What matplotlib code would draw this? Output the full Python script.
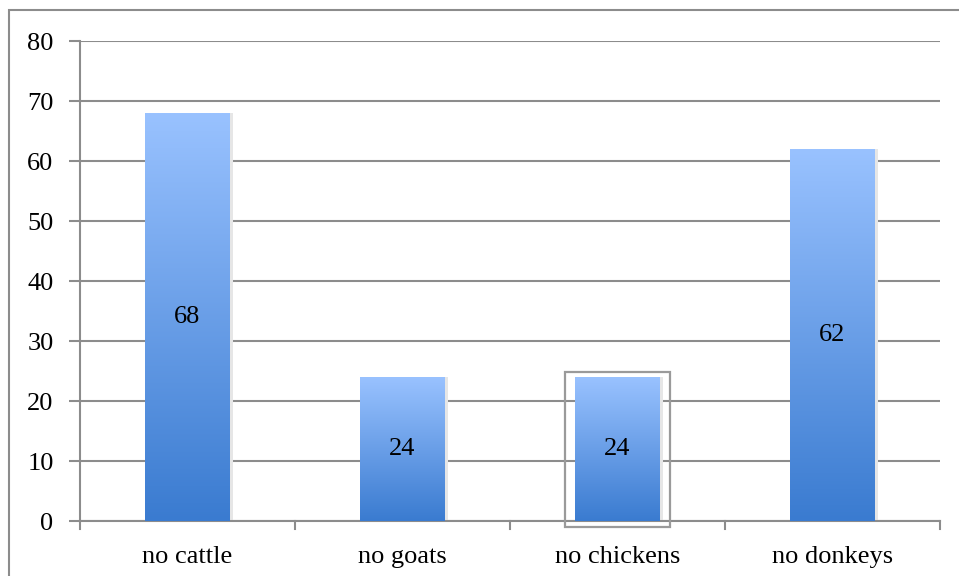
import matplotlib

matplotlib.use("Agg")
import matplotlib.pyplot as plt
import numpy as np
from matplotlib.colors import LinearSegmentedColormap
from matplotlib.patches import Rectangle

categories = ["no cattle", "no goats", "no chickens", "no donkeys"]
values = [68, 24, 24, 62]
y_ticks = [0, 10, 20, 30, 40, 50, 60, 70, 80]

plt.rcParams["font.family"] = ["Liberation Serif", "DejaVu Serif"]

W, H = 959, 576
fig = plt.figure(figsize=(W / 100, H / 100), dpi=100)

# outer frame (only top/left visible in the reference)
fig.patches.append(
    Rectangle((9 / W, -0.1), 1.1, 1 - 10 / H + 0.1, transform=fig.transFigure,
              fill=False, edgecolor="#8c8c8c", linewidth=1.5)
)

ax = fig.add_axes([80 / W, 1 - 521 / H, (940 - 80) / W, (521 - 41) / H])
ax.set_xlim(-0.5, len(categories) - 0.5)
ax.set_ylim(0, 80)

grad_cmap = LinearSegmentedColormap.from_list("bar", ["#3a7bd0", "#99c2ff"])
grad = np.linspace(0, 1, 256).reshape(-1, 1)
bar_w = 0.395

for i, v in enumerate(values):
    x0, x1 = i - bar_w / 2, i + bar_w / 2
    # soft shadow
    ax.add_patch(Rectangle((x1, 0), 0.012, v, facecolor="#e6e6e6",
                           edgecolor="none", zorder=2))
    ax.imshow(grad, cmap=grad_cmap, origin="lower", aspect="auto",
              extent=(x0, x1, 0, v), zorder=3, interpolation="bilinear")
    ax.text(i, v / 2, str(v), ha="center", va="center", fontsize=19,
            color="black", zorder=4)

# selection frame around the third bar
sel = 2
ax.add_patch(Rectangle((sel - bar_w / 2 - 0.045, -1.0), bar_w + 0.09,
                       values[sel] + 1.85, fill=False, edgecolor="#9a9a9a",
                       linewidth=1.6, zorder=5, clip_on=False))

ax.set_yticks(y_ticks)
ax.set_yticklabels([str(t) for t in y_ticks], fontsize=19)
ax.set_xticks(range(len(categories)))
ax.set_xticklabels(categories, fontsize=19)
ax.tick_params(axis="x", length=0, pad=18)
ax.tick_params(axis="y", length=8, width=1.5, color="#8c8c8c", pad=11)

# category separators on the x axis
for b in np.arange(-0.5, len(categories), 1.0):
    ax.plot([b, b], [0, -1.3], color="#8c8c8c", linewidth=1.5,
            clip_on=False, zorder=1)

ax.grid(axis="y", color="#8c8c8c", linewidth=1.5, zorder=0)
ax.set_axisbelow(True)
for side in ["top", "right"]:
    ax.spines[side].set_visible(False)
for side in ["left", "bottom"]:
    ax.spines[side].set_color("#8c8c8c")
    ax.spines[side].set_linewidth(1.5)

fig.savefig("out.png", dpi=100)
